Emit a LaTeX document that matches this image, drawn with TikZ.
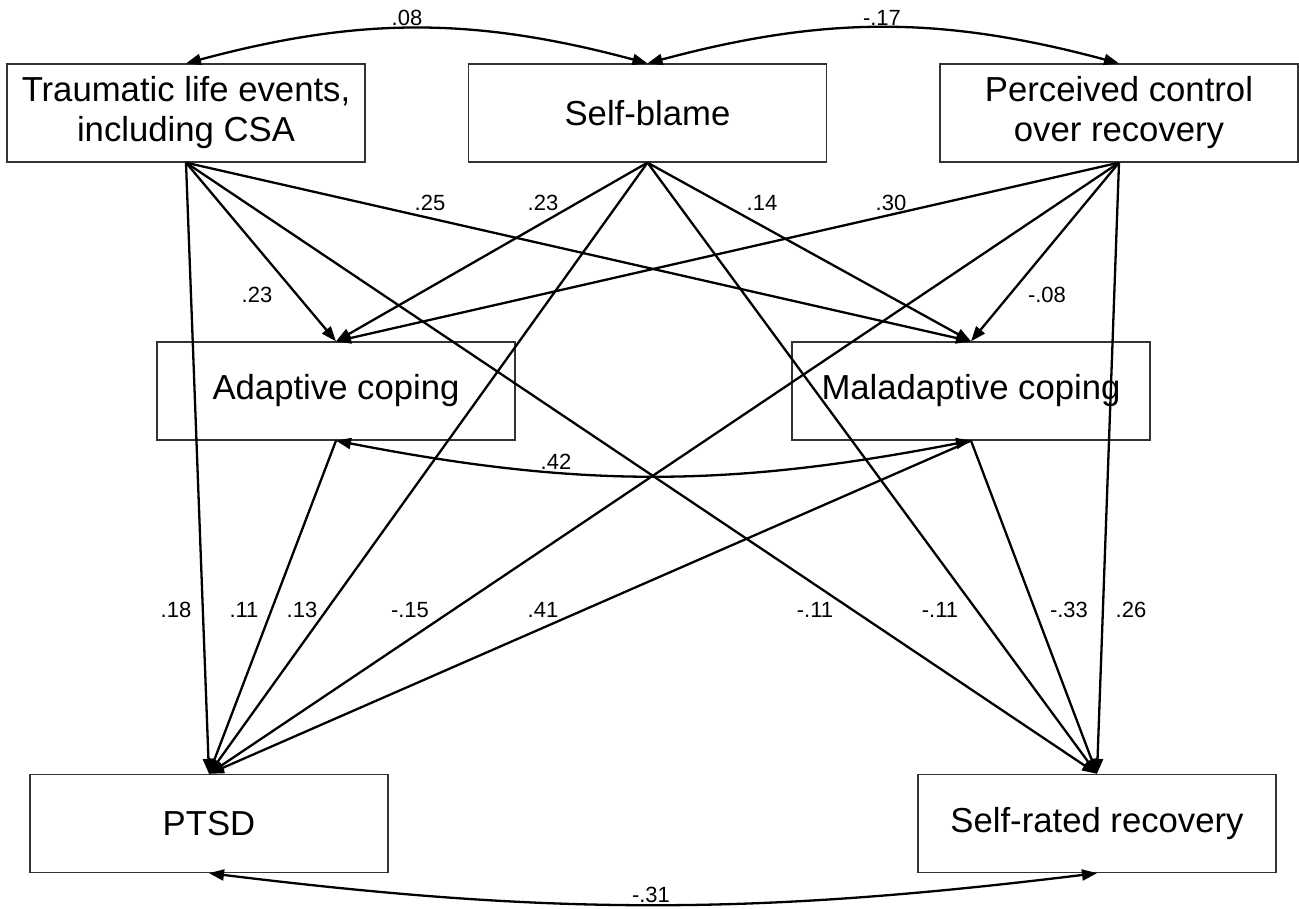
\documentclass[tikz,border=0pt]{standalone}
\usepackage{fontspec}
\setmainfont{Liberation Sans}
\usetikzlibrary{arrows.meta,positioning,calc}

\tikzset{
  var/.style={draw=black!80, line width=1.3pt, minimum width=358pt, minimum height=98pt,
    inner sep=0pt, align=center, font=\fontsize{34.7}{40}\selectfont},
  coef/.style={inner sep=0pt, font=\fontsize{22}{26}\selectfont},
  pth/.style={line width=2.3pt, -{Triangle[length=15pt,width=11pt]}},
  cov/.style={line width=2.3pt, {Triangle[length=15pt,width=11pt]}-{Triangle[length=15pt,width=11pt]}},
}

\begin{document}
\begin{tikzpicture}[x=1pt,y=-1pt]
    \useasboundingbox (0,0) rectangle (1299,909);

    % Exogenous variables
    \node[var] (trauma) at (186,113) {Traumatic life events,\\including CSA};
    \node[var] (blame) at (647.5,113) {Self-blame};
    \node[var] (control) at (1119,113) {Perceived control\\over recovery};

    % Coping
    \node[var] (adapt) at (336,391) {Adaptive coping};
    \node[var] (malad) at (971,391) {Maladaptive coping};

    % Outcomes
    \node[var] (ptsd) at (209,823.5) {PTSD};
    \node[var] (recov) at (1097,823.5) {Self-rated recovery};

    % Direct paths
    \draw[pth] (trauma.south) -- (adapt.north);
    \draw[pth] (trauma.south) -- (malad.north);
    \draw[pth] (trauma.south) -- (ptsd.north);
    \draw[pth] (trauma.south) -- (recov.north);
    \draw[pth] (blame.south) -- (adapt.north);
    \draw[pth] (blame.south) -- (malad.north);
    \draw[pth] (blame.south) -- (ptsd.north);
    \draw[pth] (blame.south) -- (recov.north);
    \draw[pth] (control.south) -- (adapt.north);
    \draw[pth] (control.south) -- (malad.north);
    \draw[pth] (control.south) -- (ptsd.north);
    \draw[pth] (control.south) -- (recov.north);
    \draw[pth] (adapt.south) -- (ptsd.north);
    \draw[pth] (malad.south) -- (ptsd.north);
    \draw[pth] (malad.south) -- (recov.north);

    % Covariances
    \draw[cov] (trauma.north) to[bend left=15] (blame.north);
    \draw[cov] (blame.north) to[bend left=15] (control.north);
    \draw[cov] (adapt.south) to[bend right=11] (malad.south);
    \draw[cov] (ptsd.south) to[bend right=7] (recov.south);

    % Coefficients
    \node[coef] (c08) at (407,18) {.08};
    \node[coef] (c17) at (882,18) {-.17};
    \node[coef] (c25) at (430,203) {.25};
    \node[coef] (c23b) at (543,203) {.23};
    \node[coef] (c14) at (762,203) {.14};
    \node[coef] (c30) at (891,203) {.30};
    \node[coef] (c23a) at (257,295) {.23};
    \node[coef] (c08n) at (1047,295) {-.08};
    \node[coef] (c42) at (556,462) {.42};
    \node[coef] (c18) at (176,610) {.18};
    \node[coef] (c11a) at (244,610) {.11};
    \node[coef] (c13) at (302,610) {.13};
    \node[coef] (c15) at (410,610) {-.15};
    \node[coef] (c41) at (543,610) {.41};
    \node[coef] (c11b) at (815,610) {-.11};
    \node[coef] (c11c) at (940,610) {-.11};
    \node[coef] (c33) at (1069,610) {-.33};
    \node[coef] (c26) at (1131,610) {.26};
    \node[coef] (c31) at (651,895) {-.31};
\end{tikzpicture}
\end{document}
